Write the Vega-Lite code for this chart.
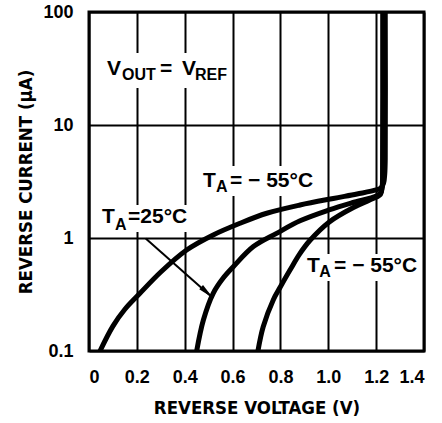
{
  "$schema": "https://vega.github.io/schema/vega-lite/v6.json",
  "width": 335,
  "height": 339,
  "autosize": {"type": "none"},
  "padding": {"left": 89, "top": 12, "right": 18, "bottom": 72},
  "background": "white",
  "config": {
    "view": {"stroke": "black", "strokeWidth": 3},
    "axis": {
      "grid": true,
      "gridColor": "black",
      "gridWidth": 2,
      "gridOpacity": 1,
      "domain": false,
      "ticks": false,
      "labelFont": "Liberation Sans",
      "labelFontWeight": "bold",
      "labelFontSize": 18,
      "labelColor": "black",
      "titleFont": "Liberation Sans Narrow, DejaVu Sans Condensed, Liberation Sans",
      "titleFontWeight": "bold",
      "titleFontSize": 18.5,
      "titleColor": "black"
    }
  },
  "datasets": {
    "curves": [
      {"curve": "A", "k": 1, "v": 0.046, "i": 0.1},
      {"curve": "A", "k": 2, "v": 0.1, "i": 0.166},
      {"curve": "A", "k": 3, "v": 0.15, "i": 0.234},
      {"curve": "A", "k": 4, "v": 0.213, "i": 0.324},
      {"curve": "A", "k": 5, "v": 0.3, "i": 0.5},
      {"curve": "A", "k": 6, "v": 0.408, "i": 0.783},
      {"curve": "A", "k": 7, "v": 0.519, "i": 1.064},
      {"curve": "A", "k": 8, "v": 0.631, "i": 1.35},
      {"curve": "A", "k": 9, "v": 0.743, "i": 1.656},
      {"curve": "A", "k": 10, "v": 0.882, "i": 1.96},
      {"curve": "A", "k": 11, "v": 1.021, "i": 2.24},
      {"curve": "A", "k": 12, "v": 1.12, "i": 2.45},
      {"curve": "A", "k": 13, "v": 1.2, "i": 2.66},
      {"curve": "A", "k": 14, "v": 1.22, "i": 2.78},
      {"curve": "A", "k": 15, "v": 1.231, "i": 3.05},
      {"curve": "A", "k": 16, "v": 1.236, "i": 3.7},
      {"curve": "A", "k": 17, "v": 1.238, "i": 5},
      {"curve": "A", "k": 18, "v": 1.238, "i": 100},
      {"curve": "B", "k": 1, "v": 0.45, "i": 0.1},
      {"curve": "B", "k": 2, "v": 0.478, "i": 0.188},
      {"curve": "B", "k": 3, "v": 0.519, "i": 0.324},
      {"curve": "B", "k": 4, "v": 0.56, "i": 0.44},
      {"curve": "B", "k": 5, "v": 0.603, "i": 0.557},
      {"curve": "B", "k": 6, "v": 0.687, "i": 0.84},
      {"curve": "B", "k": 7, "v": 0.784, "i": 1.1},
      {"curve": "B", "k": 8, "v": 0.882, "i": 1.42},
      {"curve": "B", "k": 9, "v": 1.003, "i": 1.77},
      {"curve": "B", "k": 10, "v": 1.1, "i": 2.05},
      {"curve": "B", "k": 11, "v": 1.2, "i": 2.35},
      {"curve": "B", "k": 12, "v": 1.218, "i": 2.5},
      {"curve": "B", "k": 13, "v": 1.226, "i": 2.9},
      {"curve": "B", "k": 14, "v": 1.228, "i": 4},
      {"curve": "B", "k": 15, "v": 1.229, "i": 100},
      {"curve": "C", "k": 1, "v": 0.706, "i": 0.1},
      {"curve": "C", "k": 2, "v": 0.728, "i": 0.164},
      {"curve": "C", "k": 3, "v": 0.77, "i": 0.283},
      {"curve": "C", "k": 4, "v": 0.8, "i": 0.37},
      {"curve": "C", "k": 5, "v": 0.84, "i": 0.52},
      {"curve": "C", "k": 6, "v": 0.88, "i": 0.72},
      {"curve": "C", "k": 7, "v": 0.923, "i": 0.95},
      {"curve": "C", "k": 8, "v": 1.003, "i": 1.38},
      {"curve": "C", "k": 9, "v": 1.105, "i": 1.86},
      {"curve": "C", "k": 10, "v": 1.2, "i": 2.3},
      {"curve": "C", "k": 11, "v": 1.218, "i": 2.42},
      {"curve": "C", "k": 12, "v": 1.225, "i": 2.8},
      {"curve": "C", "k": 13, "v": 1.227, "i": 4},
      {"curve": "C", "k": 14, "v": 1.228, "i": 100}
    ],
    "boxes": [
      {"v": 0.058, "v2": 0.585, "i": 43.4, "i2": 21.2},
      {"v": 0.464, "v2": 0.949, "i": 4.34, "i2": 2.35},
      {"v": 0.042, "v2": 0.435, "i": 1.96, "i2": 1.13},
      {"v": 0.898, "v2": 1.383, "i": 0.72, "i2": 0.416}
    ],
    "arrow": [
      {"v": 0.237, "i": 0.99, "v2": 0.518, "i2": 0.295}
    ],
    "arrowhead": [
      {"v": 0.4935, "i": 0.329}
    ],
    "labels": [
      {"part": "main", "v": 0.075, "i": 27.7, "text": "V"},
      {"part": "sub", "v": 0.138, "i": 25.0, "text": "OUT"},
      {"part": "main", "v": 0.297, "i": 27.7, "text": "="},
      {"part": "main", "v": 0.389, "i": 27.7, "text": "V"},
      {"part": "sub", "v": 0.443, "i": 25.0, "text": "REF"},
      {"part": "main", "v": 0.476, "i": 2.83, "text": "T"},
      {"part": "sub", "v": 0.531, "i": 2.55, "text": "A"},
      {"part": "main", "v": 0.589, "i": 2.83, "text": "= − 55°C"},
      {"part": "main", "v": 0.054, "i": 1.36, "text": "T"},
      {"part": "sub", "v": 0.109, "i": 1.18, "text": "A"},
      {"part": "main", "v": 0.163, "i": 1.36, "text": "=25°C"},
      {"part": "main", "v": 0.911, "i": 0.5, "text": "T"},
      {"part": "sub", "v": 0.962, "i": 0.452, "text": "A"},
      {"part": "main", "v": 1.024, "i": 0.5, "text": "= − 55°C"}
    ]
  },
  "encoding": {
    "x": {
      "field": "v", "type": "quantitative",
      "scale": {"domain": [0, 1.4], "nice": false, "zero": false},
      "axis": {
        "values": [0, 0.2, 0.4, 0.6, 0.8, 1.0, 1.2, 1.4],
        "labelExpr": "datum.value == 0 ? '0' : format(datum.value, '.1f')",
        "labelPadding": 17,
        "title": "REVERSE VOLTAGE (V)",
        "titlePadding": 12
      }
    },
    "y": {
      "field": "i", "type": "quantitative",
      "scale": {"type": "log", "domain": [0.1, 100], "nice": false},
      "axis": {
        "values": [0.1, 1, 10, 100],
        "labelExpr": "'' + datum.value",
        "labelPadding": 16,
        "title": "REVERSE CURRENT (μA)",
        "titlePadding": 7
      }
    }
  },
  "layer": [
    {
      "data": {"name": "boxes"},
      "mark": {"type": "rect", "color": "white", "opacity": 1},
      "encoding": {
        "x2": {"field": "v2"},
        "y2": {"field": "i2"}
      }
    },
    {
      "data": {"name": "curves"},
      "mark": {"type": "line", "color": "black", "strokeWidth": 5, "interpolate": "catmull-rom", "clip": true},
      "encoding": {
        "detail": {"field": "curve"},
        "order": {"field": "k", "type": "quantitative"}
      }
    },
    {
      "data": {"name": "arrow"},
      "mark": {"type": "rule", "color": "black", "strokeWidth": 2},
      "encoding": {
        "x2": {"field": "v2"},
        "y2": {"field": "i2"}
      }
    },
    {
      "data": {"name": "arrowhead"},
      "mark": {"type": "point", "shape": "M0,-1L0.35,1L-0.35,1Z", "filled": true, "color": "black", "opacity": 1, "size": 256, "angle": 132},
      "encoding": {}
    },
    {
      "data": {"name": "labels"},
      "transform": [{"filter": "datum.part == 'main'"}],
      "mark": {"type": "text", "align": "left", "baseline": "alphabetic", "font": "Liberation Sans", "fontWeight": "bold", "fontSize": 21, "color": "black"},
      "encoding": {"text": {"field": "text"}}
    },
    {
      "data": {"name": "labels"},
      "transform": [{"filter": "datum.part == 'sub'"}],
      "mark": {"type": "text", "align": "left", "baseline": "alphabetic", "font": "Liberation Sans", "fontWeight": "bold", "fontSize": 16, "color": "black"},
      "encoding": {"text": {"field": "text"}}
    }
  ]
}
